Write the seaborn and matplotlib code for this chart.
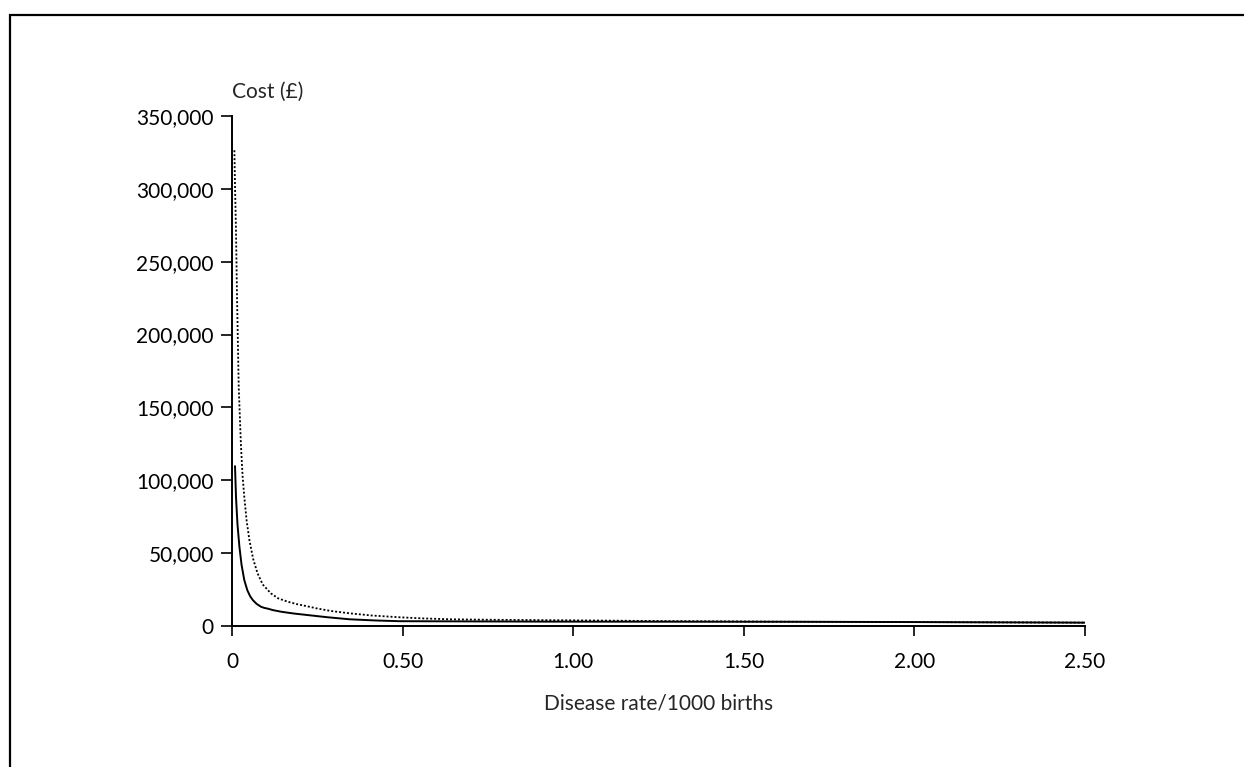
import numpy as np
import pandas as pd
import matplotlib
matplotlib.use("Agg")
import matplotlib.pyplot as plt
from matplotlib.ticker import FuncFormatter
import seaborn as sns

# dotted curve (upper)
dotted_rate = [0.007, 0.009, 0.0117, 0.0147, 0.0197, 0.0264, 0.031, 0.036, 0.043,
               0.051, 0.062, 0.075, 0.09, 0.114, 0.135, 0.163, 0.19, 0.217, 0.248,
               0.29, 0.345, 0.41, 0.49, 0.56, 0.64, 0.75, 0.93, 1.2, 1.65, 2.0, 2.5]
dotted_cost = [326500, 300000, 271600, 225900, 164100, 123000, 103000, 88700, 72000,
               59000, 46000, 36100, 28500, 22400, 19000, 16700, 15000, 13700, 12100,
               10300, 8700, 7200, 6000, 5200, 4600, 4300, 4000, 3500, 2900, 2700, 2300]

# solid curve (lower)
solid_rate = [0.0088, 0.0117, 0.016, 0.0217, 0.028, 0.036, 0.045, 0.053, 0.061,
              0.072, 0.085, 0.095, 0.105, 0.12, 0.144, 0.18, 0.222, 0.28, 0.345,
              0.42, 0.49, 0.93, 1.65, 2.0, 2.5]
solid_cost = [109700, 88700, 70000, 54400, 42000, 31500, 24500, 20500, 17800,
              15200, 13200, 12400, 11900, 10900, 9800, 8600, 7500, 6000, 4600,
              3800, 3300, 3000, 2900, 2700, 2300]

x_ticks = [0, 0.5, 1.0, 1.5, 2.0, 2.5]
x_ticklabels = ["0", "0.50", "1.00", "1.50", "2.00", "2.50"]
y_ticks = [0, 50000, 100000, 150000, 200000, 250000, 300000, 350000]

sns.set_theme(style="ticks")
plt.rcParams["font.family"] = ["Lato", "DejaVu Sans"]

dotted = pd.DataFrame({"rate": dotted_rate, "cost": dotted_cost})
solid = pd.DataFrame({"rate": solid_rate, "cost": solid_cost})

fig = plt.figure(figsize=(12.44, 7.67), dpi=100)
ax = fig.add_axes([232 / 1244, 1 - 626 / 767, (1085 - 232) / 1244, (626 - 116) / 767])

sns.lineplot(data=dotted, x="rate", y="cost", ax=ax, color="black",
             linewidth=1.3, linestyle=(0, (1.1, 1.1)))
sns.lineplot(data=solid, x="rate", y="cost", ax=ax, color="black", linewidth=1.4)

ax.set_xlim(0, 2.5)
ax.set_ylim(0, 350000)
ax.set_xticks(x_ticks)
ax.set_xticklabels(x_ticklabels)
ax.set_yticks(y_ticks)
ax.yaxis.set_major_formatter(FuncFormatter(lambda v, p: f"{int(v):,}"))
ax.tick_params(direction="out", width=1.2, labelsize=15, colors="black")
ax.tick_params(axis="x", length=7.5, pad=11)
ax.tick_params(axis="y", length=8, pad=5)
for s in ["top", "right"]:
    ax.spines[s].set_visible(False)
for s in ["left", "bottom"]:
    ax.spines[s].set_linewidth(1.4)
    ax.spines[s].set_color("black")

ax.set_xlabel("Disease rate/1000 births", fontsize=15, labelpad=16)
ax.set_ylabel("")
ax.text(0.0, (626 - 92) / 510, "Cost (£)", transform=ax.transAxes, fontsize=15,
        ha="left", va="center")

# outer frame, runs off the right and bottom edges
fig.add_artist(plt.Rectangle((10 / 1244, -0.1), 1.2, 1 - 15 / 767 + 0.1,
                             transform=fig.transFigure, fill=False,
                             edgecolor="black", linewidth=1.6))

fig.savefig("out.png", dpi=100)
